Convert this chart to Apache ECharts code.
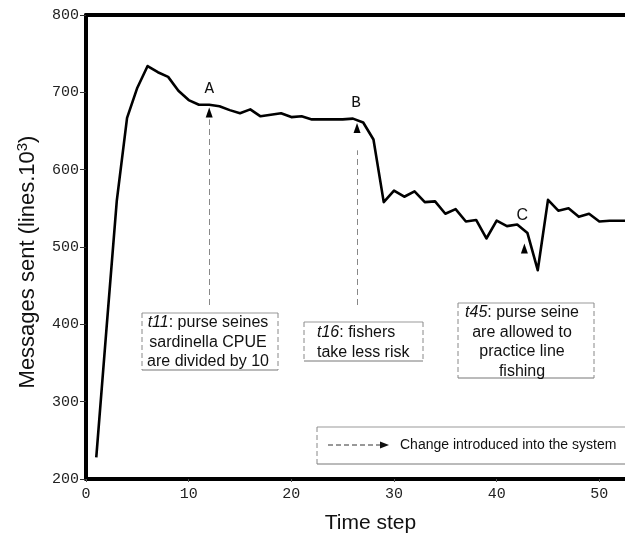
<!DOCTYPE html>
<html>
<head>
<meta charset="utf-8">
<style>
  html, body { margin: 0; padding: 0; background: #fff; }
  #chart { width: 625px; height: 533px; }
</style>
<script src="https://cdn.jsdelivr.net/npm/echarts@6/dist/echarts.min.js"></script>
</head>
<body>
<div id="chart"></div>
<script>
// ---- data ----
const timeSteps = [1,2,3,4,5,6,7,8,9,10,11,12,13,14,15,16,17,18,19,20,21,22,23,24,25,26,27,28,29,30,31,32,33,34,35,36,37,38,39,40,41,42,43,44,45,46,47,48,49,50,51,52,53];
const messagesSent = [228,395,560,667,706,734,726,720,702,690,684,684,682,677,673,678,669,671,673,668,669,665,665,665,665,666,661,639,558,573,565,572,558,559,543,549,533,535,511,534,527,529,518,470,561,547,550,539,543,533,534,534,534];
const xTicks = [0,10,20,30,40,50];
const yTicks = [200,300,400,500,600,700,800];

// annotation anchors (time step, value)
const eventLetters = [
  { name: 'A', t: 12.0, v: 704, font: 'Liberation Mono' },
  { name: 'B', t: 26.3, v: 686, font: 'Liberation Mono' },
  { name: 'C', t: 42.5, v: 540, font: 'Liberation Sans' }
];
const eventArrowHeads = [
  { t: 12.0, v: 674 },
  { t: 26.4, v: 654 },
  { t: 42.7, v: 498 }
];
const eventDashLines = [
  { t: 12.0, from: 425, to: 665 },
  { t: 26.4, from: 425, to: 625 }
];
const boxTexts = [
  ['{i|t11}: purse seines', 'sardinella CPUE', 'are divided by 10'],
  ['{i|t16}: fishers', 'take less risk'],
  ['{i|t45}: purse seine', 'are allowed to', 'practice line', 'fishing']
];
const legendText = 'Change introduced into the system';

const chart = echarts.init(document.getElementById('chart'));

function dashed(x1, y1, x2, y2, color) {
  return { type: 'line', shape: { x1, y1, x2, y2 }, style: { stroke: color || '#888', lineWidth: 1, lineDash: [5, 3] }, silent: true };
}
function solid(x1, y1, x2, y2, color) {
  return { type: 'line', shape: { x1, y1, x2, y2 }, style: { stroke: color || '#999', lineWidth: 1 }, silent: true };
}
function boxText(lines, x, y, align) {
  return {
    type: 'text', x, y,
    style: {
      text: lines.join('\n'),
      font: '16px "Liberation Sans", Arial, sans-serif',
      fill: '#111', align: align, verticalAlign: 'top', lineHeight: 19.5,
      rich: { i: { fontStyle: 'italic', fontSize: 16, fontFamily: 'Liberation Sans', lineHeight: 19.5 } }
    },
    silent: true
  };
}

const graphics = [
  // box 1
  solid(142, 313, 278, 313), solid(142, 370, 278, 370, '#777'),
  dashed(142, 313, 142, 370), dashed(278, 313, 278, 370),
  boxText(boxTexts[0], 208, 313, 'center'),
  // box 2
  solid(304, 322, 423, 322), solid(304, 361, 423, 361, '#777'),
  dashed(304, 322, 304, 361), dashed(423, 322, 423, 361),
  boxText(boxTexts[1], 317, 323, 'left'),
  // box 3
  solid(458, 303, 594, 303), solid(458, 378, 594, 378, '#777'),
  dashed(458, 303, 458, 378), dashed(594, 303, 594, 378),
  boxText(boxTexts[2], 522, 303, 'center'),
  // legend box
  solid(317, 427, 625, 427), solid(317, 464, 625, 464, '#777'),
  dashed(317, 427, 317, 464),
  dashed(328, 445, 382, 445, '#333'),
  { type: 'polygon', shape: { points: [[380, 441.5], [389, 445], [380, 448.5]] }, style: { fill: '#111' }, silent: true },
  { type: 'text', x: 400, y: 445, style: { text: legendText, font: '14px "Liberation Sans", Arial, sans-serif', fill: '#111', verticalAlign: 'middle', align: 'left' }, silent: true }
];

const option = {
  animation: false,
  backgroundColor: '#fff',
  grid: { left: 86, right: 0, top: 15, bottom: 54, outerBoundsMode: 'none', containLabel: false },
  xAxis: [{
    type: 'value', min: 0, max: 52.5, interval: 10,
    name: 'Time step', nameLocation: 'middle', nameGap: 34,
    nameTextStyle: { fontFamily: 'Liberation Sans', fontSize: 21, color: '#111', padding: [0, 0, 0, 30] },
    axisLine: { show: true, onZero: false, lineStyle: { color: '#000', width: 4 } },
    axisTick: { show: true, length: 3, lineStyle: { color: '#555', width: 1 } },
    axisLabel: {
      fontFamily: 'Liberation Mono', fontSize: 15, color: '#222', margin: 8,
      formatter: v => (xTicks.indexOf(v) >= 0 ? String(v) : '')
    },
    splitLine: { show: false }
  }, {
    type: 'value', min: 0, max: 52.5, position: 'top',
    axisLine: { show: true, lineStyle: { color: '#000', width: 4 } },
    axisTick: { show: false }, axisLabel: { show: false }, splitLine: { show: false }
  }],
  yAxis: {
    type: 'value', min: 200, max: 800, interval: 100,
    name: 'Messages sent (lines.10{s|3})', nameLocation: 'middle', nameGap: 46, nameRotate: 90,
    nameTextStyle: {
      fontFamily: 'Liberation Sans', fontSize: 22, color: '#111', padding: [0, 30, 0, 0],
      rich: { s: { fontSize: 15, verticalAlign: 'top', padding: [0, 0, 10, 0], fontFamily: 'Liberation Sans', color: '#111' } }
    },
    axisLine: { show: true, onZero: false, lineStyle: { color: '#000', width: 4 } },
    axisTick: { show: true, length: 6, lineStyle: { color: '#333', width: 1 } },
    axisLabel: {
      fontFamily: 'Liberation Mono', fontSize: 15, color: '#222', margin: 7,
      formatter: v => (yTicks.indexOf(v) >= 0 ? String(v) : '')
    },
    splitLine: { show: false }
  },
  graphic: graphics,
  series: [{
    type: 'line',
    data: timeSteps.map((t, i) => [t, messagesSent[i]]),
    symbol: 'none',
    clip: true,
    lineStyle: { color: '#000', width: 2.6, join: 'round' },
    markLine: {
      silent: true, symbol: ['none', 'none'],
      label: { show: false },
      lineStyle: { color: '#888', width: 1, type: [6, 4] },
      data: eventDashLines.map(d => [{ coord: [d.t, d.from] }, { coord: [d.t, d.to] }])
    },
    markPoint: {
      silent: true,
      data: eventArrowHeads.map(a => ({
        coord: [a.t, a.v], symbol: 'triangle', symbolSize: [7, 10],
        itemStyle: { color: '#000' }, label: { show: false }
      })).concat(eventLetters.map(l => ({
        coord: [l.t, l.v], symbol: 'circle', symbolSize: 1,
        itemStyle: { color: 'rgba(0,0,0,0)' },
        label: { show: true, position: 'inside', formatter: l.name, fontFamily: l.font, fontSize: 16, color: '#111' }
      })))
    }
  }]
};
chart.setOption(option);
</script>
</body>
</html>
